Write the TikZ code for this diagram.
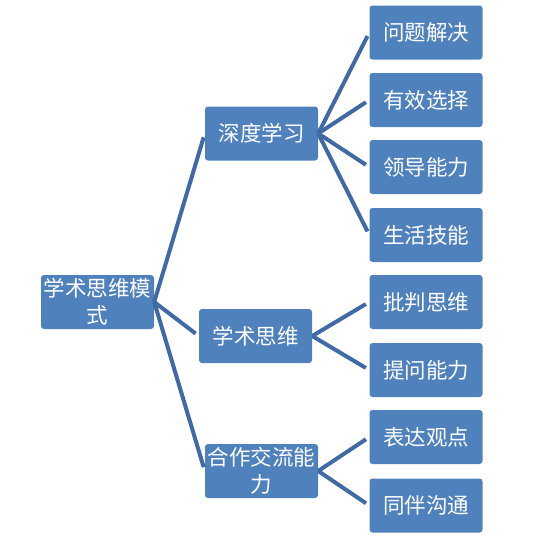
\documentclass[tikz,border=0pt]{standalone}
\usepackage{fontspec}
\newfontfamily\cjk{Noto Sans CJK SC}
\usetikzlibrary{positioning}
\definecolor{boxcol}{RGB}{79,129,189}
\definecolor{linecol}{RGB}{64,106,166}

\begin{document}
\begin{tikzpicture}[x=1pt,y=-1pt,
  b/.style={rectangle,rounded corners=3pt,fill=boxcol,text=white,minimum width=113pt,minimum height=54pt,
            inner sep=1pt,align=center,font=\cjk\fontsize{21.5}{27}\selectfont},
  e/.style={linecol,line width=4pt,shorten >=4pt}]
  \useasboundingbox (0,0) rectangle (541,554);
  \node[b] (root) at (97.5,302) {学术思维模\\式};
  \node[b] (deep) at (261.5,133.5) {深度学习};
  \node[b] (acad) at (255.5,336) {学术思维};
  \node[b] (coop) at (261.5,471) {合作交流能\\力};
  % leaves
  \foreach \n/\y/\t in {1/32.5/问题解决,2/100/有效选择,3/167/领导能力,4/235/生活技能,
                        5/302/批判思维,6/370/提问能力,7/437/表达观点,8/505.5/同伴沟通}
     {\node[b] (c\n) at (426,\y) {\t};}
  \foreach \m in {deep,acad,coop}{\draw[e] (root.east)--(\m.west);}
  \foreach \n in {1,...,4}{\draw[e] (deep.east)--(c\n.west);}
  \foreach \n in {5,6}{\draw[e] (acad.east)--(c\n.west);}
  \foreach \n in {7,8}{\draw[e] (coop.east)--(c\n.west);}
\end{tikzpicture}
\end{document}
